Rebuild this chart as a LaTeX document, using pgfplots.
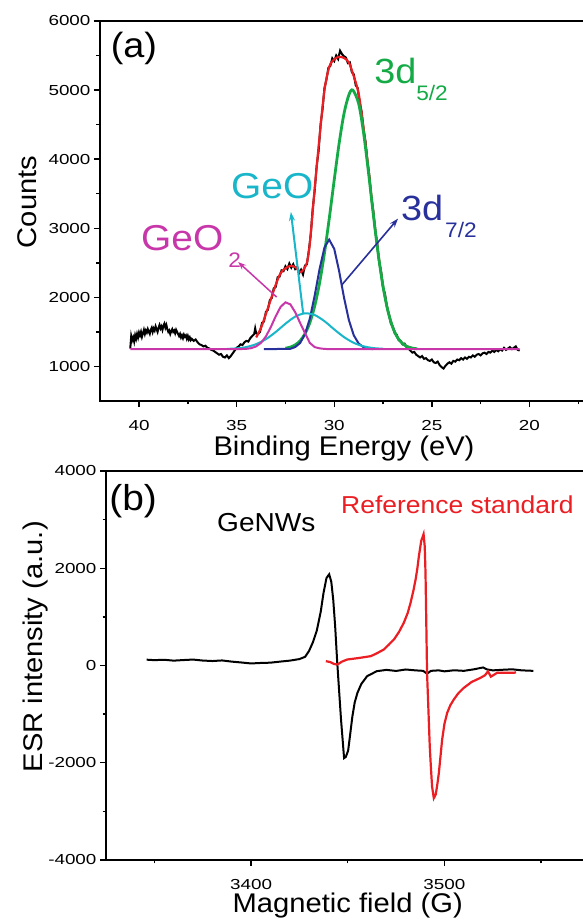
\documentclass[border=0pt]{standalone}
\usepackage{fontspec}
\setmainfont{Liberation Sans}
\newfontfamily\tickfont{Liberation Sans}[FakeStretch=1.3]
\newfontfamily\labfont{Liberation Sans}[FakeStretch=1.08]
\usepackage{pgfplots}
\pgfplotsset{compat=1.18}
\usetikzlibrary{arrows.meta}
\definecolor{cRed}{RGB}{235,30,35}
\definecolor{cGreen}{RGB}{20,170,70}
\definecolor{cCyan}{RGB}{25,182,202}
\definecolor{cBlue}{RGB}{40,48,155}
\definecolor{cMag}{RGB}{200,55,170}
\pgfplotsset{myaxis/.style={
  scale only axis, clip=false,
  axis line style={line width=2pt},
  tick style={line width=1.4pt, black},
  major tick length=6pt, minor tick length=3.5pt,
  tick align=outside, xtick pos=bottom, ytick pos=left,
  /pgf/number format/1000 sep={},
  /pgf/number format/assume math mode=true,
  tick label style={font=\tickfont\fontsize{14.5}{14.5}\selectfont},
  xticklabel style={yshift=-10pt},
  label style={font=\labfont\fontsize{27}{30}\selectfont},
}}
\begin{document}
\begin{tikzpicture}
\path[use as bounding box] (0,0) rectangle (583pt,920pt);
\clip (0,0) rectangle (583pt,920pt);
% ---------------- (a) XPS ----------------
\begin{axis}[myaxis, at={(100pt,519pt)}, anchor=south west,
  width=488pt, height=380pt, x dir=reverse,
  xmin=17, xmax=42, ymin=500, ymax=6000,
  xtick={20,25,30,35,40}, minor xtick={17.5,22.5,27.5,32.5,37.5},
  ytick={1000,2000,3000,4000,5000,6000}, minor ytick={1500,2500,3500,4500,5500},
  xlabel={Binding Energy (eV)}, ylabel={Counts},
  xlabel style={at={(axis description cs:0.5,-0.124)}, anchor=center},
  ylabel style={at={(axis description cs:-0.149,0.524)}, anchor=center},
]
% measured spectrum
\addplot[black, line width=2pt] coordinates {
(40.45,1256)(40.4,1440)(40.35,1380)(40.3,1420)(40.25,1360)(40.2,1450)(40.15,1400)(40.1,1470)(40.05,1420)(40.0,1490)
(39.95,1450)(39.9,1500)(39.85,1430)(39.8,1480)(39.75,1530)(39.7,1470)(39.65,1520)(39.6,1490)(39.55,1540)(39.5,1500)
(39.45,1470)(39.4,1530)(39.35,1560)(39.3,1500)(39.25,1550)(39.2,1520)(39.15,1580)(39.1,1540)(39.05,1500)(39.0,1560)
(38.95,1600)(38.9,1550)(38.85,1580)(38.8,1530)(38.75,1590)(38.7,1620)(38.65,1560)(38.6,1600)(38.55,1540)(38.5,1500)
(38.45,1520)(38.4,1470)(38.35,1510)(38.3,1540)(38.25,1500)(38.2,1520)(38.15,1480)(38.1,1530)(38.05,1500)(38.0,1470)
(37.95,1440)(37.9,1470)(37.85,1420)(37.8,1450)(37.75,1410)(37.7,1460)(37.65,1430)(37.6,1450)(37.55,1400)(37.5,1440)
(37.45,1390)(37.4,1420)(37.35,1380)(37.3,1400)(37.2,1370)(37.1,1390)(37.0,1350)(36.9,1320)(36.8,1310)(36.7,1290)
(36.6,1300)(36.5,1270)(36.4,1260)(36.3,1240)(36.2,1230)(36.1,1210)(36.0,1190)(35.9,1170)(35.8,1180)(35.7,1140)
(35.6,1130)(35.5,1160)(35.4,1120)(35.3,1150)(35.2,1190)(35.1,1230)(35.0,1270)(34.9,1290)(34.8,1320)(34.7,1310)
(34.6,1350)(34.5,1370)(34.4,1360)(34.3,1410)(34.2,1440)(34.1,1470)(34.05,1550)(34.0,1480)(33.9,1470)
(33.8,1500)(33.7,1630)(33.6,1650)(33.5,1790)(33.4,1820)(33.3,1960)(33.2,1990)(33.1,2130)(33.0,2150)
(32.9,2290)(32.8,2300)(32.7,2390)(32.6,2380)(32.5,2450)(32.4,2410)(32.3,2490)(32.2,2430)(32.1,2480)(32.0,2410)
(31.9,2440)(31.8,2350)(31.7,2400)(31.6,2330)(31.5,2460)(31.4,2480)(31.3,2680)(31.2,2920)(31.1,3290)(31.0,3550)
(30.9,3900)(30.8,4120)(30.7,4500)(30.6,4720)(30.5,5030)(30.4,5150)(30.3,5320)(30.2,5350)(30.1,5460)(30.0,5420)
(29.9,5500)(29.8,5450)(29.7,5570)(29.6,5520)(29.5,5490)(29.4,5470)(29.3,5390)(29.2,5400)(29.1,5260)(29.0,5230)
(28.9,5070)(28.8,5030)(28.7,4820)(28.6,4690)(28.5,4430)(28.4,4260)(28.3,3970)(28.2,3760)(28.1,3450)(28.0,3250)
(27.9,2960)(27.8,2790)(27.7,2510)(27.6,2380)(27.5,2140)(27.4,2050)(27.3,1860)(27.2,1760)(27.1,1620)(27.0,1580)
(26.9,1480)(26.8,1460)(26.7,1380)(26.6,1370)(26.5,1320)(26.4,1330)(26.3,1280)(26.2,1260)(26.1,1230)
(26.0,1200)(25.9,1210)(25.8,1170)(25.7,1150)(25.6,1130)(25.5,1150)(25.4,1110)(25.3,1120)(25.2,1090)(25.1,1080)
(25.0,1100)(24.9,1060)(24.8,1050)(24.7,1070)(24.6,1020)(24.5,990)(24.4,970)(24.3,1010)(24.2,1040)(24.1,1060)
(24.0,1040)(23.9,1080)(23.8,1070)(23.7,1100)(23.6,1090)(23.5,1120)(23.4,1100)(23.3,1130)(23.2,1110)(23.1,1140)
(23.0,1130)(22.9,1160)(22.8,1140)(22.7,1170)(22.6,1180)(22.5,1160)(22.4,1190)(22.3,1200)(22.2,1180)(22.1,1210)
(22.0,1200)(21.9,1230)(21.8,1210)(21.7,1240)(21.6,1220)(21.5,1250)(21.4,1230)(21.3,1270)(21.2,1240)(21.1,1260)
(21.0,1280)(20.9,1250)(20.8,1270)(20.7,1290)(20.6,1240)(20.5,1230)
};
% envelope
\addplot[cRed, line width=2.2pt, smooth] coordinates {
(34.0,1420)(33.75,1560)(33.5,1760)(33.25,1970)(33.0,2180)(32.75,2350)(32.5,2420)(32.25,2455)(32.0,2440)
(31.75,2367)(31.6,2390)(31.5,2440)(31.4,2500)(31.25,2778)(31.0,3580)(30.75,4330)(30.5,5000)(30.25,5340)
(30.0,5445)(29.75,5482)(29.5,5465)(29.25,5400)(29.0,5200)(28.75,4950)(28.5,4457)(28.25,3856)(28.0,3223)
(27.75,2642)(27.5,2163)(27.25,1806)(27.0,1565)(26.75,1417)(26.5,1332)(26.25,1288)(26.0,1265)
};
% 3d5/2
\addplot[cGreen, line width=2.8pt, smooth] coordinates {
(32.5,1264)(32.25,1280)(32.0,1312)(31.75,1371)(31.5,1472)(31.25,1633)(31.0,1875)(30.75,2210)(30.5,2642)
(30.25,3152)(30.0,3701)(29.75,4227)(29.5,4659)(29.25,4930)(29.05,5000)(28.75,4806)(28.5,4387)(28.25,3820)
(28.0,3205)(27.75,2632)(27.5,2157)(27.25,1803)(27.0,1563)(26.75,1415)(26.5,1331)(26.25,1287)(26.0,1265)(25.75,1256)
};
% 3d7/2
\addplot[cBlue, line width=2pt] coordinates {
(33.6,1250)(32.25,1255)(32.0,1281)(31.75,1338)(31.5,1465)(31.25,1693)(31.0,2028)(30.75,2411)(30.5,2722)
(30.26,2836)(30.0,2702)(29.75,2381)(29.5,1998)(29.25,1671)(29.0,1451)(28.75,1332)(28.5,1278)(28.25,1258)(28.0,1250)
};
% GeO
\addplot[cCyan, line width=2pt, smooth] coordinates {
(35.5,1254)(35.0,1262)(34.5,1281)(34.0,1323)(33.5,1395)(33.0,1498)(32.5,1618)(32.0,1721)(31.5,1769)
(31.0,1744)(30.5,1655)(30.0,1536)(29.5,1425)(29.0,1342)(28.5,1292)(28.0,1266)(27.5,1256)
};
% GeO2
\addplot[cMag, line width=2pt] coordinates {
(40.45,1250)(34.75,1252)(34.5,1255)(34.25,1265)(34.0,1290)(33.75,1342)(33.5,1434)(33.25,1569)(33.0,1725)
(32.75,1861)(32.5,1928)(32.25,1899)(32.0,1785)(31.75,1631)(31.5,1484)(31.25,1340)(31.0,1280)(30.75,1262)
(30.5,1254)(30.25,1250)(20.5,1250)
};
% annotations
\draw[cMag, line width=1.5pt, -{Stealth[length=8pt,width=6pt]}] (axis cs:32.95,2004) -- (axis cs:34.92,2511);
\draw[cCyan, line width=2pt, -{Stealth[length=9pt,width=6pt]}] (axis cs:31.59,1763) -- (axis cs:32.22,3236);
\draw[cBlue, line width=1.6pt, -{Stealth[length=9pt,width=6pt]}] (axis cs:29.63,2174) -- (axis cs:26.73,3140);
\node[font=\labfont\fontsize{35}{35}\selectfont, anchor=center] at (axis cs:40.26,5608) {(a)};
\node[font=\labfont\fontsize{36}{36}\selectfont, text=cMag, anchor=base west, inner sep=0pt] at (axis cs:39.9,2681)
  {GeO\hspace{5pt}\raisebox{-17pt}{\fontsize{21}{21}\selectfont 2}};
\node[font=\labfont\fontsize{36}{36}\selectfont, text=cCyan, anchor=base west, inner sep=0pt] at (axis cs:35.29,3434) {GeO};
\node[font=\labfont\fontsize{35}{35}\selectfont, text=cGreen, anchor=base west, inner sep=0pt] at (axis cs:27.96,5101)
  {3d\raisebox{-17pt}{\fontsize{21}{21}\selectfont 5/2}};
\node[font=\labfont\fontsize{35}{35}\selectfont, text=cBlue, anchor=base west, inner sep=0pt] at (axis cs:26.58,3116)
  {3d\hspace{2pt}\raisebox{-17pt}{\fontsize{21}{21}\selectfont 7/2}};
\end{axis}
% ---------------- (b) ESR ----------------
\begin{axis}[myaxis, at={(106pt,60pt)}, anchor=south west,
  width=483.5pt, height=389pt,
  xmin=3325, xmax=3575, ymin=-4000, ymax=4000,
  xtick={3400,3500}, minor xtick={3350,3450,3550},
  ytick={-4000,-2000,0,2000,4000}, minor ytick={-3000,-1000,1000,3000},
  xlabel={Magnetic field (G)}, ylabel={ESR intensity (a.u.)},
  xlabel style={at={(axis description cs:0.5,-0.117)}, anchor=center},
  ylabel style={at={(axis description cs:-0.145,0.548)}, anchor=center},
]
\addplot[black, line width=2pt] coordinates {
(3346,120)(3350,110)(3355,118)(3360,100)(3365,112)(3370,122)(3375,102)(3380,92)(3385,104)(3390,80)
(3395,62)(3400,42)(3405,52)(3410,58)(3415,80)(3420,100)(3425,132)(3428,180)(3430,300)(3432,480)
(3434,720)(3436,1100)(3437.5,1500)(3439,1800)(3440.4,1876)(3441.5,1720)(3442.5,1350)(3443.5,800)(3444.5,100)(3445.5,-500)
(3446.5,-1100)(3447.3,-1500)(3448.1,-1904)(3449,-1880)(3450.2,-1750)(3451.3,-1400)(3452.4,-1045)(3453.6,-760)(3455,-563)(3457,-380)
(3460,-220)(3465,-117)(3470,-90)(3475,-112)(3480,-82)(3485,-100)(3489,-110)(3491,-170)(3493,-110)(3497,-100)(3500,-120)
(3505,-98)(3510,-110)(3515,-80)(3520,-40)(3522,-80)(3525,-100)(3530,-88)(3535,-78)(3540,-100)(3546,-110)
};
\addplot[cRed, line width=2.2pt] coordinates {
(3438.7,89)(3441,70)(3443,30)(3444.7,21)(3447,80)(3449.8,124)(3455,150)(3461.9,192)(3465,250)(3468.7,330)
(3471,420)(3473.9,536)(3476.5,690)(3479,880)(3481,1080)(3482.5,1293)(3484,1550)(3485.1,1773)(3486,2000)(3486.8,2254)
(3488,2563)(3489.2,2701)(3489.8,2450)(3490.2,1911)(3490.6,900)(3491,-151)(3491.7,-900)(3492.4,-1664)(3493,-2100)(3493.6,-2489)
(3494.5,-2728)(3495.5,-2650)(3496.3,-2450)(3497.1,-2213)(3498,-1850)(3498.8,-1526)(3500,-1200)(3501.4,-975)(3503,-820)(3504.8,-701)
(3507,-580)(3510,-460)(3514,-340)(3518.6,-254)(3521,-200)(3522.5,-120)(3524,-230)(3527.2,-151)(3531,-150)(3535.7,-151)(3537,-140)
};
\node[font=\labfont\fontsize{36}{36}\selectfont, anchor=center] at (axis cs:3339,3388) {(b)};
\node[font=\labfont\fontsize{26}{26}\selectfont, anchor=base west, inner sep=0pt] at (axis cs:3382.4,2750) {GeNWs};
\node[font=\labfont\fontsize{24.5}{24.5}\selectfont, text=cRed, anchor=base west, inner sep=0pt] at (axis cs:3446.5,3120) {Reference standard};
\end{axis}
\end{tikzpicture}
\end{document}
